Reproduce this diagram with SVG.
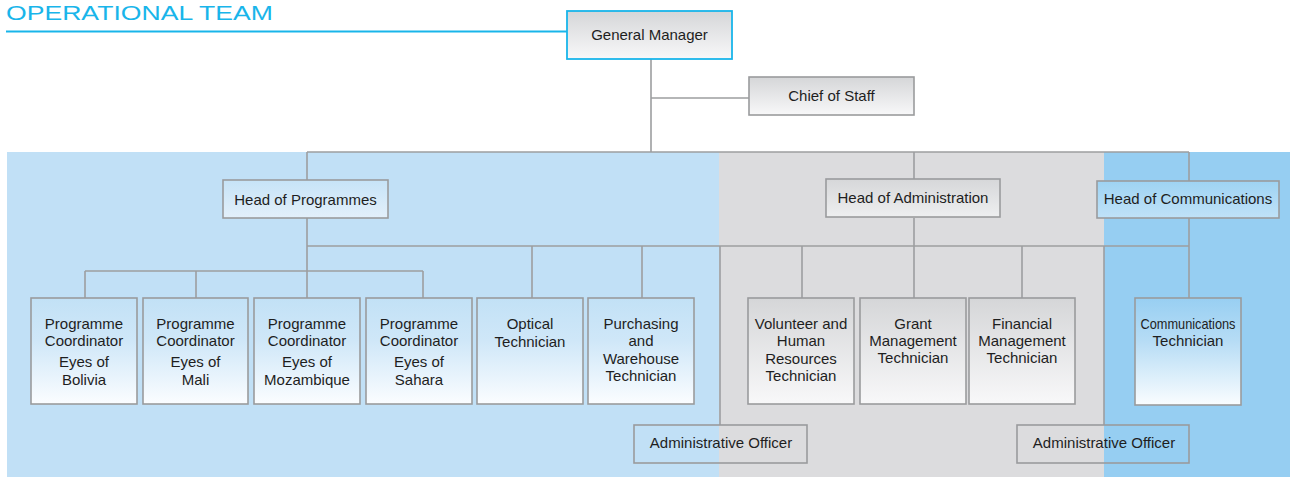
<svg xmlns="http://www.w3.org/2000/svg" width="1290" height="477" viewBox="0 0 1290 477">
<style>
.box{stroke:#9a9b9d;stroke-width:1.6}
.t{font-family:"Liberation Sans",Arial,sans-serif;font-size:15px;fill:#1e1e1e;text-anchor:middle}
.c{fill:none;stroke:#9d9ea0;stroke-width:1.6}
</style>
<defs>
<linearGradient id="gGray" x1="0" y1="0" x2="0" y2="1"><stop offset="0" stop-color="#d5d6d8"/><stop offset="1" stop-color="#f8f8f9"/></linearGradient>
<linearGradient id="gGrayS" x1="0" y1="0" x2="0" y2="1"><stop offset="0" stop-color="#d6d7d9"/><stop offset="1" stop-color="#eeeff0"/></linearGradient>
<linearGradient id="gBlue" x1="0" y1="0" x2="0" y2="1"><stop offset="0" stop-color="#c2e1f6"/><stop offset="0.4" stop-color="#cfe7f8"/><stop offset="1" stop-color="#fbfdff"/></linearGradient>
<linearGradient id="gBlueS" x1="0" y1="0" x2="0" y2="1"><stop offset="0" stop-color="#c6e3f7"/><stop offset="1" stop-color="#e3f0fa"/></linearGradient>
<linearGradient id="gDark" x1="0" y1="0" x2="0" y2="1"><stop offset="0" stop-color="#9ed3f3"/><stop offset="1" stop-color="#c0e2f8"/></linearGradient>
<linearGradient id="gDarkT" x1="0" y1="0" x2="0" y2="1"><stop offset="0" stop-color="#98cff2"/><stop offset="0.4" stop-color="#b6dcf5"/><stop offset="1" stop-color="#fafdff"/></linearGradient>
</defs>
<rect width="1290" height="477" fill="#ffffff"/>
<g id="panels">
<rect x="7" y="152" width="712" height="325" fill="#c1e0f6"/>
<rect x="719" y="152" width="385" height="325" fill="#dcdcde"/>
<rect x="1104" y="152" width="186" height="325" fill="#96cef2"/>
</g>
<g id="title">
<text x="6" y="19.5" font-family="'Liberation Sans',Arial,sans-serif" font-size="21" fill="#19b5ea" textLength="267" lengthAdjust="spacingAndGlyphs">OPERATIONAL TEAM</text>
<line x1="6" y1="31.5" x2="567" y2="31.5" stroke="#19b5ea" stroke-width="2"/>
</g>
<g id="connectors" class="c">
<path class="c" d="M651,59V152M651,98H749M307,152H1189M307,152V180M914,152V180M1189,152V181"/>
<path class="c" d="M307,218V298M307,246H1189M85,271H423M85,271V298M196,271V298M423,271V298"/>
<path class="c" d="M532,246V298M642,246V298M720,246V425M802,246V298M914,218V298M1022,246V298M1104,246V425M1189,218V298"/>
</g>
<g id="general-manager">
<rect x="567" y="11" width="165" height="48" fill="url(#gGray)" stroke="#19b5ea" stroke-width="1.8"/>
<text class="t" x="649.5" y="40">General Manager</text>
</g>
<g id="chief-of-staff">
<rect class="box" x="749" y="77" width="165" height="38" fill="url(#gGray)"/>
<text class="t" x="831.5" y="101">Chief of Staff</text>
</g>
<g id="head-programmes">
<rect class="box" x="223" y="180" width="165" height="38" fill="url(#gBlueS)"/>
<text class="t" x="305.5" y="205">Head of Programmes</text>
</g>
<g id="head-administration">
<rect class="box" x="826" y="179" width="174" height="38" fill="url(#gGrayS)"/>
<text class="t" x="913" y="203">Head of Administration</text>
</g>
<g id="head-communications">
<rect class="box" x="1097" y="181" width="182" height="37" fill="url(#gDark)"/>
<text class="t" x="1188" y="204">Head of Communications</text>
</g>
<g id="pc-bolivia">
<rect class="box" x="31" y="298" width="106" height="106" fill="url(#gBlue)"/>
<text class="t" x="84" y="329">Programme</text><text class="t" x="84" y="346">Coordinator</text><text class="t" x="84" y="367">Eyes of</text><text class="t" x="84" y="385">Bolivia</text>
</g>
<g id="pc-mali">
<rect class="box" x="143" y="298" width="105" height="106" fill="url(#gBlue)"/>
<text class="t" x="195.5" y="329">Programme</text><text class="t" x="195.5" y="346">Coordinator</text><text class="t" x="195.5" y="367">Eyes of</text><text class="t" x="195.5" y="385">Mali</text>
</g>
<g id="pc-mozambique">
<rect class="box" x="254" y="298" width="106" height="106" fill="url(#gBlue)"/>
<text class="t" x="307" y="329">Programme</text><text class="t" x="307" y="346">Coordinator</text><text class="t" x="307" y="367">Eyes of</text><text class="t" x="307" y="385">Mozambique</text>
</g>
<g id="pc-sahara">
<rect class="box" x="366" y="298" width="106" height="106" fill="url(#gBlue)"/>
<text class="t" x="419" y="329">Programme</text><text class="t" x="419" y="346">Coordinator</text><text class="t" x="419" y="367">Eyes of</text><text class="t" x="419" y="385">Sahara</text>
</g>
<g id="optical-technician">
<rect class="box" x="477" y="298" width="106" height="106" fill="url(#gBlue)"/>
<text class="t" x="530" y="329">Optical</text><text class="t" x="530" y="347">Technician</text>
</g>
<g id="purchasing-technician">
<rect class="box" x="588" y="298" width="106" height="106" fill="url(#gBlue)"/>
<text class="t" x="641" y="329">Purchasing</text><text class="t" x="641" y="346">and</text><text class="t" x="641" y="364">Warehouse</text><text class="t" x="641" y="381">Technician</text>
</g>
<g id="volunteer-technician">
<rect class="box" x="748" y="298" width="106" height="106" fill="url(#gGray)"/>
<text class="t" x="801" y="329">Volunteer and</text><text class="t" x="801" y="346">Human</text><text class="t" x="801" y="364">Resources</text><text class="t" x="801" y="381">Technician</text>
</g>
<g id="grant-technician">
<rect class="box" x="860" y="298" width="106" height="106" fill="url(#gGray)"/>
<text class="t" x="913" y="329">Grant</text><text class="t" x="913" y="346">Management</text><text class="t" x="913" y="363">Technician</text>
</g>
<g id="financial-technician">
<rect class="box" x="969" y="298" width="106" height="106" fill="url(#gGray)"/>
<text class="t" x="1022" y="329">Financial</text><text class="t" x="1022" y="346">Management</text><text class="t" x="1022" y="363">Technician</text>
</g>
<g id="communications-technician">
<rect class="box" x="1135" y="298" width="106" height="107" fill="url(#gDarkT)"/>
<text class="t" x="1188" y="329" font-size="14" textLength="95" lengthAdjust="spacingAndGlyphs">Communications</text><text class="t" x="1188" y="346">Technician</text>
</g>
<g id="admin-officer-1">
<rect class="box" x="634" y="425" width="173" height="38" fill="none"/>
<text class="t" x="721" y="448">Administrative Officer</text>
</g>
<g id="admin-officer-2">
<rect class="box" x="1017" y="425" width="172" height="38" fill="none"/>
<text class="t" x="1104" y="448">Administrative Officer</text>
</g>
</svg>
